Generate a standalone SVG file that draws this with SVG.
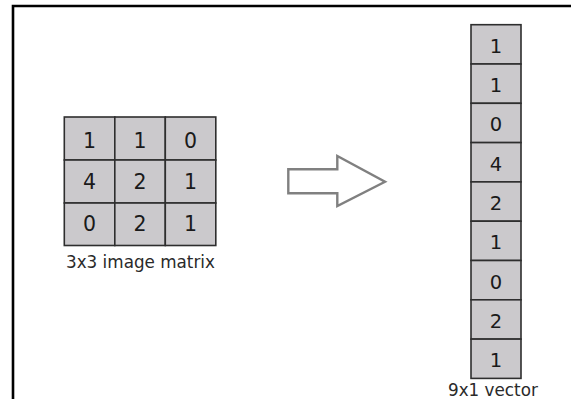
<svg xmlns="http://www.w3.org/2000/svg" width="571" height="399" viewBox="0 0 571 399">
<style>
.cell{fill:#cbc9cc;stroke:#2e2e2e;stroke-width:1.6}
.d{font-family:"DejaVu Sans",sans-serif;font-size:20.5px;fill:#1a1a1a;text-anchor:middle}
.dv{font-family:"DejaVu Sans",sans-serif;font-size:19.5px;fill:#1a1a1a;text-anchor:middle}
.lbl{font-family:"DejaVu Sans",sans-serif;font-size:16.8px;fill:#2a2a2a}
</style>
<rect width="571" height="399" fill="#ffffff"/>
<g id="frame">
<path d="M13,399 L13,6 L571,6" fill="none" stroke="#000" stroke-width="2.6"/>
</g>
<g id="matrix">
<rect class="cell" x="64.3" y="117" width="50.5" height="43"/>
<rect class="cell" x="114.8" y="117" width="50.5" height="43"/>
<rect class="cell" x="165.3" y="117" width="50.5" height="43"/>
<rect class="cell" x="64.3" y="160" width="50.5" height="43"/>
<rect class="cell" x="114.8" y="160" width="50.5" height="43"/>
<rect class="cell" x="165.3" y="160" width="50.5" height="43"/>
<rect class="cell" x="64.3" y="203" width="50.5" height="42.5"/>
<rect class="cell" x="114.8" y="203" width="50.5" height="42.5"/>
<rect class="cell" x="165.3" y="203" width="50.5" height="42.5"/>
<text class="d" x="89.6" y="147.7">1</text>
<text class="d" x="140" y="147.7">1</text>
<text class="d" x="190.5" y="147.7">0</text>
<text class="d" x="89.6" y="189.3">4</text>
<text class="d" x="140" y="189.3">2</text>
<text class="d" x="190.5" y="189.3">1</text>
<text class="d" x="89.6" y="231">0</text>
<text class="d" x="140" y="231">2</text>
<text class="d" x="190.5" y="231">1</text>
<text class="lbl" x="66" y="268.3">3x3 image matrix</text>
</g>
<g id="connectors">
<polygon points="288.3,169.3 337.3,169.3 337.3,156 385,181.7 337.3,206 337.3,193.3 288.3,193.3" fill="#ffffff" stroke="#808080" stroke-width="2.4" stroke-linejoin="miter"/>
</g>
<g id="vector">
<rect class="cell" x="471" y="24.7" width="50" height="39.3"/>
<rect class="cell" x="471" y="64" width="50" height="39.3"/>
<rect class="cell" x="471" y="103.3" width="50" height="39.3"/>
<rect class="cell" x="471" y="142.6" width="50" height="39.3"/>
<rect class="cell" x="471" y="181.9" width="50" height="39.3"/>
<rect class="cell" x="471" y="221.2" width="50" height="39.3"/>
<rect class="cell" x="471" y="260.5" width="50" height="39.3"/>
<rect class="cell" x="471" y="299.8" width="50" height="39.3"/>
<rect class="cell" x="471" y="339.1" width="50" height="39.3"/>
<text class="dv" x="496" y="52.7">1</text>
<text class="dv" x="496" y="92">1</text>
<text class="dv" x="496" y="131.3">0</text>
<text class="dv" x="496" y="170.6">4</text>
<text class="dv" x="496" y="209.9">2</text>
<text class="dv" x="496" y="249.2">1</text>
<text class="dv" x="496" y="288.5">0</text>
<text class="dv" x="496" y="327.8">2</text>
<text class="dv" x="496" y="367.1">1</text>
<text class="lbl" x="448" y="396" font-size="17.6px">9x1 vector</text>
</g>
</svg>
